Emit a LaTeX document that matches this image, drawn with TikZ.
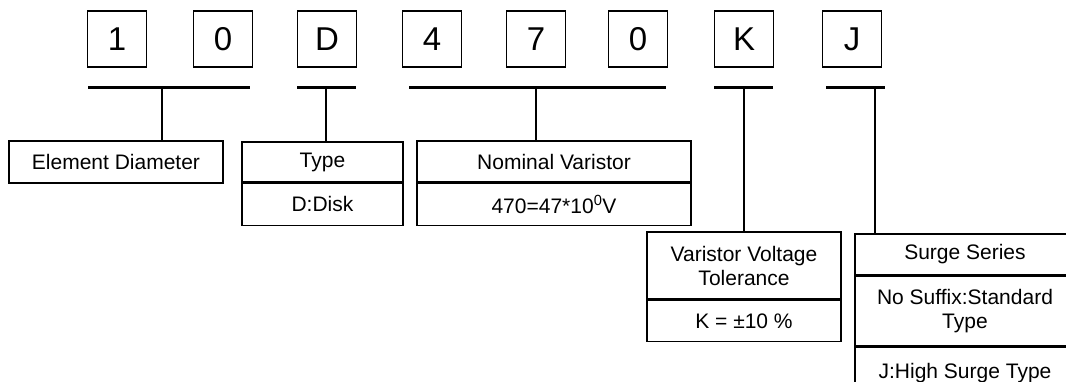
\documentclass[tikz,border=0pt]{standalone}
\usepackage{fontspec}
\setmainfont{Liberation Sans}
\usetikzlibrary{positioning}

\tikzset{
  digit/.style={draw, line width=1.4pt, minimum width=59pt, minimum height=56pt,
    inner sep=0pt, font=\fontsize{33}{36}\selectfont},
  cell/.style={draw, line width=1.4pt, inner sep=0pt, align=center,
    font=\fontsize{21}{24}\selectfont},
  bar/.style={line width=3pt},
  stem/.style={line width=2.5pt}
}

\begin{document}
\begin{tikzpicture}[x=1pt,y=-1pt]
\clip (0,0) rectangle (1066,381);
\fill[white] (0,0) rectangle (1066,381);

% code digits
\foreach \x/\c/\n in {117/1/d1, 223/0/d2, 327/D/d3, 432/4/d4, 536/7/d5, 638/0/d6, 744/K/d7, 852/J/d8}
  \node[digit] (\n) at (\x,39) {\c};

% bars under the groups
\coordinate (barAl) at (88,87);  \coordinate (barAr) at (250,87);  \coordinate (barAm) at (162,87);
\coordinate (barBl) at (297,87); \coordinate (barBr) at (356,87);  \coordinate (barBm) at (326,87);
\coordinate (barCl) at (409,87); \coordinate (barCr) at (666,87);  \coordinate (barCm) at (536,87);
\coordinate (barDl) at (714,87); \coordinate (barDr) at (773,87);  \coordinate (barDm) at (744,87);
\coordinate (barEl) at (826,87); \coordinate (barEr) at (885,87);  \coordinate (barEm) at (875,87);
\foreach \g in {A,B,C,D,E}
  \draw[bar] (bar\g l) -- (bar\g r);

% meaning boxes
\node[cell, minimum width=214pt, minimum height=42pt] (diam) at (116,162) {Element Diameter};

\node[cell, minimum width=161pt, minimum height=40pt] (typeh) at (322.5,162) {Type};
\node[cell, minimum width=161pt, minimum height=42pt, below=0pt of typeh] (typeb) {D:Disk};

\node[cell, minimum width=274pt, minimum height=41pt] (nomh) at (554,161.5) {Nominal Varistor};
\node[cell, minimum width=274pt, minimum height=42pt, below=0pt of nomh] (nomb) {470=47*10\textsuperscript{0}V};

\node[cell, minimum width=194pt, minimum height=67pt] (tolh) at (744,265.5) {Varistor Voltage\\Tolerance};
\node[cell, minimum width=194pt, minimum height=41pt, below=0pt of tolh] (tolb) {K = ±10 \%};

\node[cell, minimum width=220pt, minimum height=41pt] (surh) at (965,254.5) {Surge Series};
\node[cell, minimum width=220pt, minimum height=69pt, below=0pt of surh] (surm) {No Suffix:Standard\\Type};
\node[cell, minimum width=220pt, minimum height=52pt, below=0pt of surm] (surb) {J:High Surge Type};

% stems
\draw[stem] (barAm) -- (barAm |- diam.north);
\draw[stem] (barBm) -- (barBm |- typeh.north);
\draw[stem] (barCm) -- (barCm |- nomh.north);
\draw[stem] (barDm) -- (barDm |- tolh.north);
\draw[stem] (barEm) -- (barEm |- surh.north);
\end{tikzpicture}
\end{document}
